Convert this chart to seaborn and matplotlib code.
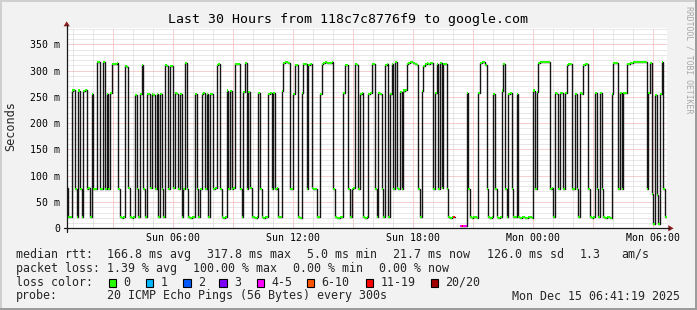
import numpy as np
import pandas as pd
import matplotlib
matplotlib.use("Agg")
import matplotlib.pyplot as plt
import seaborn as sns
from matplotlib.patches import Rectangle, Polygon
from matplotlib.lines import Line2D

# ---------------- data ----------------
start_hour = 0.6886          # Sun 00:41:19, hours since Sun 00:00
step_s = 300                 # one sample every 300 s
nan = np.nan
median_ms = [
    76, 21, 21, 262, 263, 75, 21, 262, 75, 21, 261, 263, 75, 76, 22, 255, 75, 75, 316, 317,
    75, 74, 316, 75, 256, 75, 257, 312, 312, 313, 314, 75, 21, 20, 21, 308, 307, 76, 21, 20,
    21, 254, 75, 21, 256, 310, 75, 21, 255, 256, 76, 255, 254, 75, 256, 21, 255, 75, 22, 310,
    308, 75, 309, 308, 76, 257, 256, 75, 255, 21, 75, 315, 75, 21, 20, 21, 21, 256, 75, 21,
    75, 255, 257, 75, 256, 21, 255, 256, 75, 76, 311, 313, 75, 21, 20, 21, 262, 75, 261, 75,
    76, 312, 313, 312, 75, 21, 260, 315, 75, 259, 76, 21, 21, 20, 21, 257, 75, 21, 20, 21,
    21, 256, 257, 75, 258, 75, 76, 21, 21, 261, 314, 316, 316, 315, 75, 75, 256, 311, 310, 21,
    20, 257, 313, 312, 75, 311, 313, 76, 75, 75, 21, 21, 256, 312, 315, 316, 315, 314, 315, 316,
    75, 21, 20, 20, 21, 21, 258, 310, 311, 75, 21, 75, 76, 312, 310, 75, 256, 257, 21, 20,
    21, 256, 257, 313, 312, 75, 21, 257, 256, 75, 21, 311, 312, 21, 255, 313, 75, 316, 76, 75,
    260, 75, 262, 263, 312, 315, 316, 317, 315, 313, 311, 75, 21, 261, 309, 312, 314, 313, 315, 314,
    75, 258, 312, 75, 314, 76, 313, 312, 75, 21, 20, 21, 21, nan, nan, nan, 4, 5, 4, 4,
    257, 75, 21, 20, 21, 21, 20, 258, 315, 317, 316, 311, 75, 21, 20, 21, 256, 75, 21, 20,
    21, 262, 313, 75, 21, 256, 257, 75, 21, 21, 256, 21, 20, 21, 21, 20, 20, 21, 21, 20,
    262, 75, 260, 315, 317, 317, 316, 317, 316, 317, 75, 76, 21, 257, 256, 75, 258, 257, 75, 258,
    311, 312, 313, 75, 75, 256, 75, 21, 257, 256, 310, 312, 313, 75, 21, 20, 21, 258, 75, 21,
    257, 75, 21, 20, 21, 21, 20, 256, 314, 315, 315, 75, 257, 75, 257, 258, 312, 313, 314, 315,
    316, 316, 316, 317, 316, 316, 317, 316, 75, 257, 314, 66, 9, 254, 64, 9, 256, 316, 75, 21,
]
loss_idx = [232, 236, 237, 238, 239]
loss_cnt = [12, 5, 12, 5, 5]

loss_labels = ["0", "1", "2", "3", "4-5", "6-10", "11-19", "20/20"]
loss_colors = ["#26ff00", "#00b8ff", "#0059ff", "#7e00ff", "#ff00ff", "#ff5500", "#ff0000", "#a10000"]

tick_hours = [6, 12, 18, 24, 30]
tick_labels = ["Sun 06:00", "Sun 12:00", "Sun 18:00", "Mon 00:00", "Mon 06:00"]
y_ticks = [0, 50, 100, 150, 200, 250, 300, 350]
y_labels = ["0", "50 m", "100 m", "150 m", "200 m", "250 m", "300 m", "350 m"]

title = "Last 30 Hours from 118c7c8776f9 to google.com"
row1 = [("median rtt:", 16), ("166.8 ms avg", 107.3), ("317.8 ms max", 207.3), ("5.0 ms min", 306.7),
        ("21.7 ms now", 393.3), ("126.0 ms sd", 486.7), ("1.3", 579.3), ("am/s", 621.7)]
row2 = [("packet loss:", 16), ("1.39 % avg", 107.3), ("100.00 % max", 193.3), ("0.00 % min", 293.3),
        ("0.00 % now", 379.3)]
box_x = [108.7, 145.7, 183.3, 219.3, 256.7, 306.7, 365.7, 430.7]
probe_text = "20 ICMP Echo Pings (56 Bytes) every 300s"
stamp_text = "Mon Dec 15 06:41:19 2025"

# ---------------- figure ----------------
sns.set_theme(style="white")
plt.rcParams['font.family'] = ['DejaVu Sans Mono', 'DejaVu Sans']

W, H = 697, 310
fig = plt.figure(figsize=(W / 100, H / 100), dpi=100, facecolor="#f2f2f2")

def fx(px):
    return px / W

def fy(py):
    return 1 - py / H

L, R, T, B = 66.7, 666.7, 28.3, 228.3
ax = fig.add_axes([fx(L), fy(B), (R - L) / W, (B - T) / H])
ax.set_facecolor("white")

n = len(median_ms)
step_h = step_s / 3600.0
vals = np.array(median_ms, dtype=float)
times = start_hour + np.arange(n + 1) * step_h
ymax = 380.4
ax.set_xlim(times[0], times[-1])
ax.set_ylim(0, ymax)

# grid
for h in range(1, 31):
    major = h % 3 == 0
    ax.axvline(h, color="#f0a0a0" if major else "#d2d2d2", lw=0.72,
               ls=(0, (1, 1)), zorder=1)
for yv in range(10, 381, 10):
    major = yv % 50 == 0
    ax.axhline(yv, color="#f0a0a0" if major else "#d2d2d2", lw=0.72,
               ls=(0, (1, 1)), zorder=1)

# median line (steps), split where data is missing
valid = ~np.isnan(vals)
seg_id = np.cumsum(np.r_[1, np.diff(valid.astype(int)) != 0])
rows = []
for s in np.unique(seg_id[valid]):
    idx = np.where((seg_id == s) & valid)[0]
    for i in idx:
        rows.append((times[i], vals[i], s))
    rows.append((times[idx[-1] + 1], vals[idx[-1]], s))
df = pd.DataFrame(rows, columns=["t", "ms", "seg"])
sns.lineplot(data=df, x="t", y="ms", units="seg", estimator=None, sort=False,
             color="#151515", lw=1.0, drawstyle="steps-post", ax=ax, legend=False, zorder=3)

# loss-coloured median marks
def bucket(c):
    if c <= 3:
        return c
    if c <= 5:
        return 4
    if c <= 10:
        return 5
    if c <= 19:
        return 6
    return 7

loss = np.zeros(n, dtype=int)
for i, c in zip(loss_idx, loss_cnt):
    loss[i] = c
cols = [loss_colors[bucket(c)] for c in loss]
half = 2.0
ax.bar(times[:-1][valid], 2 * half, bottom=vals[valid] - half, width=step_h, align="edge",
       color=np.array(cols)[valid], linewidth=0, zorder=4)

ax.set_xlabel("")
ax.set_ylabel("")
ax.set_xticks(tick_hours)
ax.set_xticklabels(tick_labels, fontsize=7.1)
ax.set_yticks(y_ticks)
ax.set_yticklabels(y_labels, fontsize=7.1)
ax.tick_params(axis="both", length=0, pad=4.5, colors="black")
ax.tick_params(axis="x", pad=3.2)
for sp in ax.spines.values():
    sp.set_visible(False)

# axes lines + arrows
axis_col = "#1a1a1a"
fig.add_artist(Line2D([fx(63.5), fx(669)], [fy(B), fy(B)], color=axis_col, lw=0.9))
fig.add_artist(Line2D([fx(L), fx(L)], [fy(231.5), fy(25)], color=axis_col, lw=0.9))
arrow_col = "#8a1c1c"
fig.add_artist(Polygon([[fx(63.6), fy(26.3)], [fx(69.8), fy(26.3)], [fx(L), fy(21.3)]],
                       closed=True, color=arrow_col, lw=0))
fig.add_artist(Polygon([[fx(668.3), fy(225.2)], [fx(668.3), fy(231.4)], [fx(673.6), fy(B)]],
                       closed=True, color=arrow_col, lw=0))

# texts
fig.text(fx(348.5), fy(19), title, ha="center", va="center", fontsize=9.5, color="black")
fig.text(fx(11), fy(126.5), "Seconds", rotation=90, ha="center", va="center", fontsize=8.6)
fig.text(fx(688.5), fy(60), "RRDTOOL / TOBI OETIKER", rotation=270, ha="center", va="center",
         fontsize=5.9, color="#a8a8a8")

fs = 8.35
for txt, x in row1:
    fig.text(fx(x), fy(254.3), txt, ha="left", va="center", fontsize=fs)
for txt, x in row2:
    fig.text(fx(x), fy(268.3), txt, ha="left", va="center", fontsize=fs)
fig.text(fx(16), fy(282), "loss color:", ha="left", va="center", fontsize=fs)
for bx, lab, col in zip(box_x, loss_labels, loss_colors):
    fig.add_artist(Rectangle((fx(bx), fy(286.5)), 7.6 / W, 8.0 / H, facecolor=col,
                             edgecolor="black", lw=0.8))
    fig.text(fx(bx + 14.7), fy(282), lab, ha="left", va="center", fontsize=fs)
fig.text(fx(16), fy(296), "probe:", ha="left", va="center", fontsize=fs)
fig.text(fx(107.3), fy(296), probe_text, ha="left", va="center", fontsize=fs)
fig.text(fx(680), fy(296), stamp_text, ha="right", va="center", fontsize=fs)

# 3-D frame
fig.add_artist(Rectangle((0, fy(2)), 1, 2 / H, facecolor="#cfcfcf", lw=0))
fig.add_artist(Rectangle((0, 0), 2 / W, 1, facecolor="#cfcfcf", lw=0))
fig.add_artist(Rectangle((0, 0), 1, 2.5 / H, facecolor="#9c9c9c", lw=0))
fig.add_artist(Rectangle((1 - 2.5 / W, 0), 2.5 / W, 1, facecolor="#9c9c9c", lw=0))

fig.savefig("out.png", dpi=100, facecolor=fig.get_facecolor())
